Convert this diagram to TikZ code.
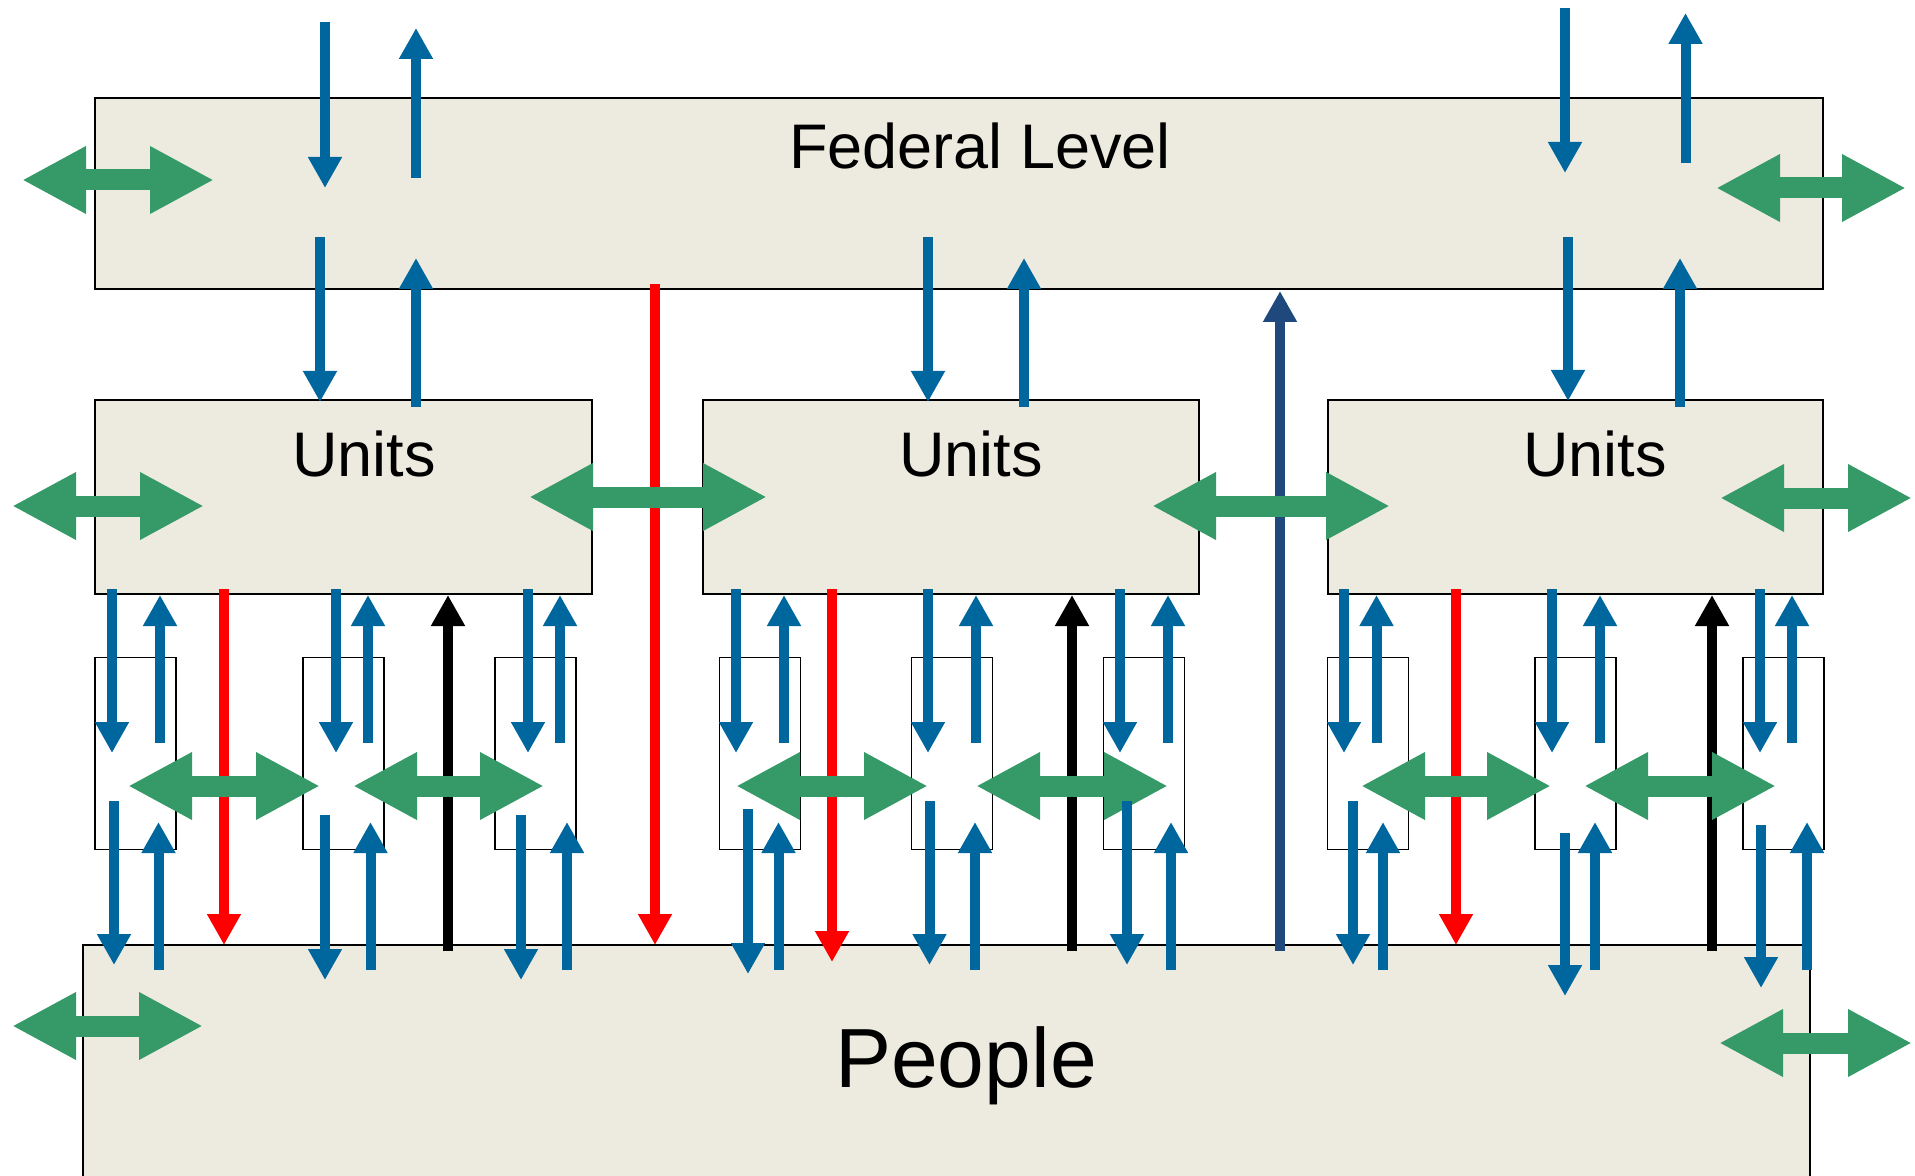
\documentclass[tikz,border=0pt]{standalone}
\usepackage{fontspec}
\setmainfont{Liberation Sans}
\usetikzlibrary{arrows.meta}
\definecolor{boxfill}{RGB}{237,235,224}
\definecolor{flowblue}{RGB}{0,102,158}
\definecolor{flowgreen}{RGB}{53,154,104}
\definecolor{flowdark}{RGB}{31,73,125}
\definecolor{flowred}{RGB}{255,0,0}
\newcommand\varr[5]{\coordinate (#1s) at (#3,#4); \coordinate (#1e) at (#3,#5); \draw[#2] (#1s) -- (#1e);}
\newcommand\harr[4]{\coordinate (#1s) at (#2,#4); \coordinate (#1e) at (#3,#4); \draw[garr] (#1s) -- (#1e);}
\tikzset{
  bigbox/.style={draw=black, fill=boxfill, line width=0.9pt, inner sep=0pt, outer sep=0pt},
  smallbox/.style={draw=black, line width=0.9pt, inner sep=0pt, outer sep=0pt, minimum width=40.5pt, minimum height=96pt},
  vtip/.style={-{Triangle[length=15.5pt,width=16pt]}},
  barr/.style={draw=flowblue, line width=5pt, vtip},
  rarr/.style={draw=flowred, line width=5pt, vtip},
  karr/.style={draw=black, line width=5pt, vtip},
  darr/.style={draw=flowdark, line width=5pt, vtip},
  garr/.style={draw=flowgreen, line width=10.5pt, {Triangle[length=32pt,width=31.5pt]}-{Triangle[length=32pt,width=31.5pt]}},
  label/.style={anchor=base, inner sep=0pt}
}
\begin{document}
\begin{tikzpicture}[x=0.5pt, y=-0.5pt]
\useasboundingbox (0,0) rectangle (1915,1176);
\clip (0,0) rectangle (1915,1176);
% boxes
\node[bigbox, minimum width=864pt, minimum height=95.5pt] (fed) at (959,193.5) {};
\node[bigbox, minimum width=248.5pt, minimum height=97pt] (u1) at (343.5,497) {};
\node[bigbox, minimum width=248pt, minimum height=97pt] (u2) at (951,497) {};
\node[bigbox, minimum width=247.5pt, minimum height=97pt] (u3) at (1575.5,497) {};
\node[bigbox, minimum width=863.5pt, minimum height=127.5pt] (people) at (946.5,1072.5) {};
\foreach \n/\x in {s1/135.5, s2/343.5, s3/535.5, s4/760, s5/952, s6/1144, s7/1368, s8/1575.5, s9/1783.5}
  \node[smallbox] (\n) at (\x,753.5) {};
% labels
\node[label, font=\fontsize{31.5pt}{36pt}\selectfont] (tfed) at (980,169) {Federal Level};
\node[label, font=\fontsize{31.5pt}{36pt}\selectfont] (tu1) at (364,476) {Units};
\node[label, font=\fontsize{31.5pt}{36pt}\selectfont] (tu2) at (971,476) {Units};
\node[label, font=\fontsize{31.5pt}{36pt}\selectfont] (tu3) at (1595,476) {Units};
\node[label, font=\fontsize{42pt}{48pt}\selectfont] (tpeople) at (966,1087) {People};
% long vertical lines
\varr{r1}{rarr}{655}{284}{945}
\varr{r2}{rarr}{224}{589}{945}
\varr{r3}{rarr}{832}{589}{962}
\varr{r4}{rarr}{1456}{589}{945}
\varr{k1}{karr}{448}{951}{595}
\varr{k2}{karr}{1072}{951}{595}
\varr{k3}{karr}{1712}{951}{595}
\varr{d1}{darr}{1280}{951}{291}
% green double arrows
\harr{g1}{22}{214}{180}
\harr{g2}{1716}{1906}{188}
\harr{g3}{12}{204}{506}
\harr{g4}{529}{767}{497}
\harr{g5}{1152}{1390}{506}
\harr{g6}{1720}{1912}{498}
\harr{g7}{128}{320}{786}
\harr{g8}{353}{544}{786}
\harr{g9}{736}{928}{786}
\harr{g10}{976}{1168}{786}
\harr{g11}{1361}{1551}{786}
\harr{g12}{1584}{1776}{786}
\harr{g13}{12}{203}{1026}
\harr{g14}{1719}{1912}{1043}
% blue arrows, federal level
\varr{b1}{barr}{325}{22}{188}
\varr{b2}{barr}{416}{178}{28}
\varr{b3}{barr}{320}{237}{402}
\varr{b4}{barr}{416}{407}{258}
\varr{b5}{barr}{928}{237}{402}
\varr{b6}{barr}{1024}{407}{258}
\varr{b7}{barr}{1565}{8}{173}
\varr{b8}{barr}{1685.5}{163}{13}
\varr{b9}{barr}{1568}{237}{401}
\varr{b10}{barr}{1680}{407}{258}
% blue arrows, units to small boxes
\foreach \x [count=\i] in {112, 336, 528, 736, 928, 1120, 1344, 1552, 1760}
  {\varr{ud\i}{barr}{\x}{589}{753}}
\foreach \x [count=\i] in {160, 368, 560, 784, 976, 1168, 1376.5, 1600, 1792}
  {\varr{uu\i}{barr}{\x}{743}{595}}
% blue arrows, small boxes to people
\foreach \x/\a/\b [count=\i] in {114/801/965, 325/815/980, 521/815/980, 748/809/974, 929.5/801/965, 1127/801/965, 1353/801/965, 1565/833/996, 1761/825/988}
  {\varr{pd\i}{barr}{\x}{\a}{\b}}
\foreach \x [count=\i] in {158.5, 370.5, 567, 778.5, 975, 1171, 1383, 1595, 1807}
  {\varr{pu\i}{barr}{\x}{970}{822}}
\end{tikzpicture}
\end{document}
